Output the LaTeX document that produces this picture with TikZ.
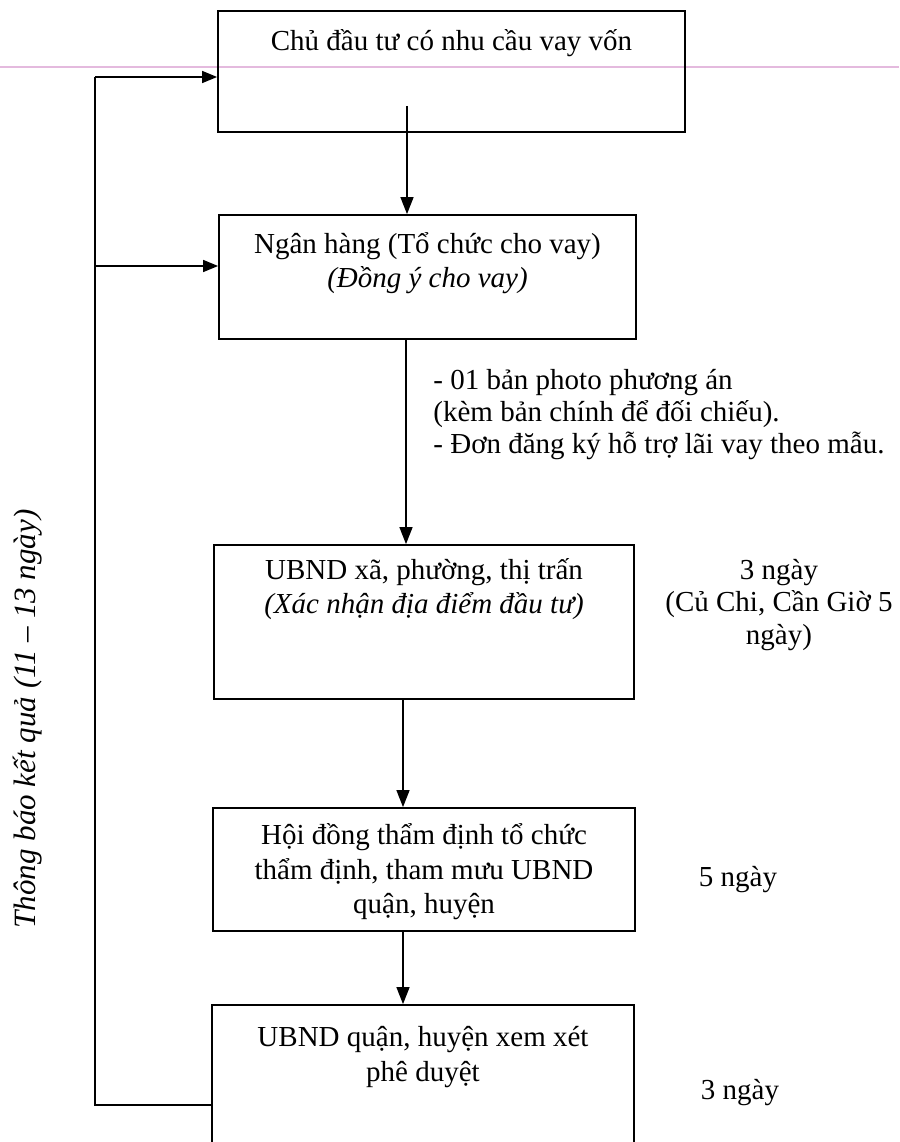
\documentclass[tikz,border=0pt]{standalone}
\usepackage{fontspec}
\setmainfont{Liberation Serif}
\usetikzlibrary{arrows.meta}
\definecolor{rulepink}{RGB}{228,186,222}
\begin{document}
\begin{tikzpicture}[x=1pt, y=-1pt, thick,
    box/.style={draw, line width=1.8pt, inner sep=0pt},
    txt/.style={align=center, inner sep=0pt, font=\fontsize{29}{34.5}\selectfont},
    arr/.style={line width=1.4pt, -{Triangle[length=17pt, width=13pt]}},
    arrs/.style={line width=1.4pt, -{Triangle[length=15pt, width=12pt]}},
    back/.style={line width=1.4pt}]
        \useasboundingbox (0,0) rectangle (899,1142);
        \clip (0,0) rectangle (899,1142);
        \fill[white] (0,0) rectangle (899,1142);
        \draw[rulepink, line width=1.2pt] (0,67) -- (899,67);
        \node[box, minimum width=467pt, minimum height=121pt] (chu) at (451.5,71.5) {};
        \node[box, minimum width=417pt, minimum height=124pt] (bank) at (427.5,277) {};
        \node[box, minimum width=420pt, minimum height=154pt] (xa) at (424,622) {};
        \node[box, minimum width=422pt, minimum height=123pt] (hoi) at (424,869.5) {};
        \node[box, minimum width=422pt, minimum height=200pt] (quan) at (423,1105) {};
        \node[txt] (chutxt) at (451.5,43) {Chủ đầu tư có nhu cầu vay vốn};
        \node[txt] (banktxt) at (427.5,263) {Ngân hàng (Tổ chức cho vay)\\\textit{(Đồng ý cho vay)}};
        \node[txt] (xatxt) at (424,589) {UBND xã, phường, thị trấn\\\textit{(Xác nhận địa điểm đầu tư)}};
        \node[txt] (hoitxt) at (424,872) {Hội đồng thẩm định tổ chức\\thẩm định, tham mưu UBND\\quận, huyện};
        \node[txt] (quantxt) at (423,1057) {UBND quận, huyện xem xét\\phê duyệt};
        \node[txt, align=left, anchor=west, font=\fontsize{29}{32}\selectfont] (hoso) at (433,415) {- 01 bản photo phương án\\(kèm bản chính để đối chiếu).\\- Đơn đăng ký hỗ trợ lãi vay theo mẫu.};
        \node[txt, font=\fontsize{29}{32.5}\selectfont] (ngay3a) at (779,605) {3 ngày\\(Củ Chi, Cần Giờ 5\\ngày)};
        \node[txt] (ngay5) at (738,880) {5 ngày};
        \node[txt] (ngay3b) at (740,1093) {3 ngày};
        \node[txt, rotate=90, font=\fontsize{31}{34}\selectfont\itshape] (tbkq) at (28,719) {Thông báo kết quả (11 – 13 ngày)};
        \coordinate (a1) at (407,106);
        \draw[arr] (a1) -- (a1 |- bank.north);
        \draw[arr] ([xshift=-21.5pt]bank.south) -- ([xshift=-21.5pt]bank.south |- xa.north);
        \draw[arr] ([xshift=-21pt]xa.south) -- ([xshift=-21pt]xa.south |- hoi.north);
        \draw[arr] ([xshift=-21pt]hoi.south) -- ([xshift=-21pt]hoi.south |- quan.north);
        \coordinate (lb) at (95,1105);
        \coordinate (lt) at (95,77);
        \coordinate (lm) at (95,266);
        \draw[back] (lb -| quan.west) -- (lb) -- (lt);
        \draw[arrs] (lt) -- (lt -| chu.west);
        \draw[arrs] (lm) -- (lm -| bank.west);
      \end{tikzpicture}
\end{document}
